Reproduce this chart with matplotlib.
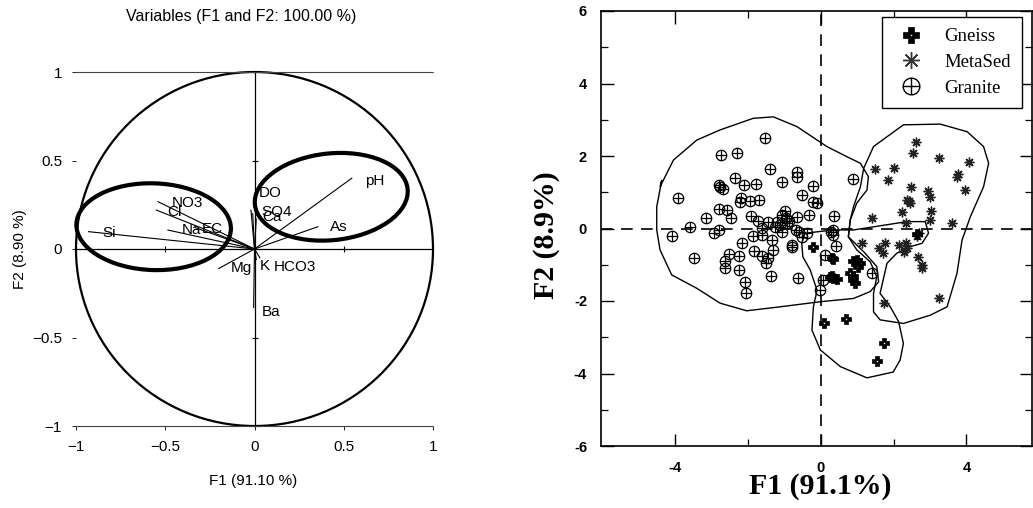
import numpy as np
import matplotlib
matplotlib.use("Agg")
import matplotlib.pyplot as plt
import matplotlib.path as mpath
from matplotlib.patches import Circle, Ellipse, Polygon
from matplotlib.lines import Line2D

# ---- left panel: correlation circle (loadings on F1/F2) ----
var_names = ["pH", "As", "Si", "NO3", "Cl", "Na", "EC", "DO", "SO4", "Ca",
             "Mg", "K", "HCO3", "Ba"]
load_f1 = [0.545, 0.355, -0.93, -0.54, -0.55, -0.485, -0.33, -0.02, -0.01, 0.01,
           -0.20, 0.01, 0.03, -0.005]
load_f2 = [0.40, 0.126, 0.098, 0.267, 0.22, 0.107, 0.12, 0.22, 0.20, 0.17,
           -0.11, -0.06, -0.05, -0.33]
label_x = [0.62, 0.424, -0.855, -0.463, -0.487, -0.407, -0.295, 0.026, 0.041, 0.045,
           -0.132, 0.028, 0.106, 0.041]
label_y = [0.386, 0.123, 0.089, 0.258, 0.211, 0.107, 0.113, 0.318, 0.211, 0.183,
           -0.109, -0.096, -0.10, -0.354]

# groups drawn by hand on the circle
group_cx = [-0.565, 0.43]
group_cy = [0.126, 0.295]
group_w = [0.866, 0.86]
group_h = [0.49, 0.49]
group_angle = [-2, 6]

circle_ticks = [-1, -0.5, 0, 0.5, 1]
circle_ticklabels = ["\u22121", "\u22120.5", "0", "0.5", "1"]

# ---- right panel: sample scores ----
granite_x = [-1.52, -2.74, -2.30, -1.39, -0.65, -0.65, -2.36, -2.10, -1.77, -1.07,
             -0.21, -2.79, -2.67, -2.76, -3.92, -0.50, -2.19, -2.21, -1.94, -1.69,
             -0.21, -0.10, -2.79, -2.58, -2.45, -3.15, -1.92, -0.99, -1.05, -0.65,
             -0.33, 0.37, -1.71, -1.45, -1.20, -1.11, -3.59, -4.08, -2.94, -2.79,
             -1.07, -0.68, -0.38, -1.85, -1.62, -1.34, -1.32, -0.52, -0.79, -0.79,
             -2.15, 0.33, 0.33, 0.42, -1.84, -1.62, -1.45, -1.51, -2.51, -2.25,
             -2.62, -2.62, -3.49, -2.23, -1.36, -0.61, -2.07, -2.05, 0.06, -0.03,
             0.12, 0.90, 1.42, 0.28, -0.95, -0.88, -1.25, -0.60, -0.92, -1.60]
granite_y = [2.49, 2.03, 2.07, 1.64, 1.55, 1.43, 1.38, 1.20, 1.23, 1.27,
             1.18, 1.20, 1.09, 1.15, 0.85, 0.92, 0.83, 0.74, 0.76, 0.80,
             0.74, 0.69, 0.54, 0.51, 0.28, 0.30, 0.35, 0.48, 0.37, 0.33,
             0.37, 0.34, 0.21, 0.19, 0.19, 0.09, 0.03, -0.20, -0.13, -0.04,
             -0.11, -0.04, -0.12, -0.20, -0.18, -0.32, -0.59, -0.24, -0.46, -0.52,
             -0.41, -0.04, -0.18, -0.47, -0.61, -0.75, -0.82, -0.96, -0.70, -0.77,
             -0.91, -1.08, -0.80, -1.14, -1.31, -1.36, -1.47, -1.79, -1.43, -1.70,
             -0.73, 1.36, -1.24, -0.09, 0.30, 0.22, 0.05, -0.10, 0.15, 0.02]

metased_x = [2.62, 2.53, 3.24, 4.06, 2.00, 1.50, 1.86, 3.77, 3.74, 3.97,
             2.49, 2.94, 3.00, 2.37, 2.46, 2.42, 2.23, 3.04, 3.01, 3.60,
             2.35, 1.41, 2.69, 2.64, 2.33, 2.38, 2.30, 1.77, 1.60, 1.72,
             1.13, 2.67, 2.78, 3.24, 1.73, 2.78, 2.15]
metased_y = [2.38, 2.07, 1.94, 1.83, 1.66, 1.64, 1.34, 1.50, 1.42, 1.06,
             1.15, 1.03, 0.88, 0.80, 0.70, 0.76, 0.46, 0.49, 0.23, 0.16,
             0.14, 0.28, -0.13, -0.20, -0.40, -0.55, -0.65, -0.41, -0.55, -0.68,
             -0.41, -0.78, -1.10, -1.91, -2.06, -1.00, -0.45]

gneiss_x = [-0.21, 0.35, 0.30, 0.30, 0.35, 0.44, 0.25, 0.81, 0.90, 0.95,
            0.88, 0.99, 1.08, 0.90, 1.02, 0.08, 0.70, 1.75, 1.54, 2.65]
gneiss_y = [-0.50, -0.84, -0.80, -1.30, -1.36, -1.38, -1.35, -1.24, -1.42, -1.51,
            -1.30, -0.87, -0.96, -0.91, -1.05, -2.62, -2.51, -3.17, -3.66, -0.15]

# group envelopes
granite_hull_x = [-4.36, -4.41, -4.04, -3.40, -2.76, -1.85, -1.30, -0.65, 0.17, 0.72,
                  1.09, 1.31, 1.27, 0.99, 0.81, 0.76, 1.18, 1.54, 1.59, 1.36,
                  0.90, -0.01, -1.11, -2.03, -2.76, -3.40, -4.09, -4.41, -4.50, -4.50]
granite_hull_y = [1.34, 1.15, 1.89, 2.44, 2.72, 3.04, 3.08, 2.81, 2.26, 1.98,
                  1.80, 1.43, 1.06, 0.70, 0.23, -0.23, -0.64, -1.05, -1.47, -1.74,
                  -1.93, -2.02, -2.16, -2.27, -2.06, -1.65, -1.28, -0.59, -0.04, 0.60]
metased_hull_x = [2.27, 3.28, 4.02, 4.47, 4.61, 4.47, 4.11, 3.88, 3.74, 3.47,
                  3.01, 2.27, 1.63, 1.45, 1.45, 1.54, 1.36, 0.99, 0.76, 0.81,
                  0.90, 1.09, 1.18, 1.45]
metased_hull_y = [2.86, 2.88, 2.67, 2.26, 1.80, 1.15, 0.33, -0.32, -1.24, -2.16,
                  -2.39, -2.62, -2.52, -2.30, -1.79, -1.33, -0.92, -0.59, -0.23, 0.23,
                  0.60, 1.15, 1.66, 2.26]
gneiss_hull_x = [-0.52, -0.43, 0.35, 0.90, 2.37, 2.87, 2.96, 2.78, 2.46, 2.09,
                 1.82, 1.63, 1.91, 2.14, 2.27, 2.18, 1.99, 1.27, 0.54, -0.01,
                 -0.24, -0.20, -0.10, -0.29, -0.49]
gneiss_hull_y = [-0.41, -0.13, -0.04, -0.04, 0.19, 0.19, -0.13, -0.41, -0.50, -0.68,
                 -0.96, -1.79, -2.16, -2.57, -3.17, -3.63, -3.96, -4.12, -3.81, -3.35,
                 -2.80, -2.16, -1.70, -1.14, -0.78]

score_xticks = [-4, 0, 4]
score_xticklabels = ["-4", "0", "4"]
score_yticks = [-6, -4, -2, 0, 2, 4, 6]
score_yticklabels = ["-6", "-4", "-2", "0", "2", "4", "6"]


def granite_marker():
    circ = mpath.Path.unit_circle()
    cross = mpath.Path([[-1, 0], [1, 0], [0, -1], [0, 1]],
                       [mpath.Path.MOVETO, mpath.Path.LINETO,
                        mpath.Path.MOVETO, mpath.Path.LINETO])
    return mpath.Path.make_compound_path(circ, cross)


def gneiss_marker():
    a, b = 0.38, 0.16
    outer = [(-a, 1), (a, 1), (a, a), (1, a), (1, -a), (a, -a), (a, -1),
             (-a, -1), (-a, -a), (-1, -a), (-1, a), (-a, a), (-a, 1)]
    inner = [(-b, -b), (b, -b), (b, b), (-b, b), (-b, -b)]
    p1 = mpath.Path(outer, closed=True)
    p2 = mpath.Path(inner, closed=True)
    return mpath.Path.make_compound_path(p1, p2)


fig = plt.figure(figsize=(10.33, 5.08), dpi=100)
W, H = 1033.0, 508.0

# ===================== left panel =====================
sans = ["Liberation Sans", "DejaVu Sans"]
ax1 = fig.add_axes([76 / W, (H - 426) / H, 357 / W, 354 / H])
ax1.set_xlim(-1, 1)
ax1.set_ylim(-1, 1)
for side in ["left", "right"]:
    ax1.spines[side].set_visible(False)
for side in ["top", "bottom"]:
    ax1.spines[side].set_linestyle((0, (1, 1)))
    ax1.spines[side].set_linewidth(0.8)
    ax1.spines[side].set_color("#444444")

ax1.add_patch(Circle((0, 0), 1, fill=False, lw=1.6, color="black", clip_on=False))
ax1.axhline(0, color="black", lw=0.9)
ax1.axvline(0, color="black", lw=0.9)
# small ticks on the centre axes
ax1.plot([-0.5, 0.5], [0, 0], ls="none", marker="|", ms=5, mew=0.8, color="black")
ax1.plot([0, 0], [-0.5, 0.5], ls="none", marker="_", ms=5, mew=0.8, color="black")

for x, y in zip(load_f1, load_f2):
    ax1.plot([0, x], [0, y], color="black", lw=0.8)
for name, tx, ty in zip(var_names, label_x, label_y):
    ax1.text(tx, ty, name, ha="left", va="center", fontsize=11, family=sans)

for cx, cy, w, h, ang in zip(group_cx, group_cy, group_w, group_h, group_angle):
    ax1.add_patch(Ellipse((cx, cy), w, h, angle=ang, fill=False, lw=3.0,
                          color="black", clip_on=False))

ax1.set_xticks(circle_ticks, circle_ticklabels)
ax1.set_yticks(circle_ticks, circle_ticklabels)
ax1.tick_params(axis="both", direction="out", length=3, width=0.6, labelsize=11,
                top=False, right=False, pad=7)
for lab in ax1.get_xticklabels() + ax1.get_yticklabels():
    lab.set_family(sans)

fig.text(241 / W, 1 - 17 / H, "Variables (F1 and F2: 100.00 %)", ha="center", va="center",
         fontsize=11.5, family=sans)
fig.text(253 / W, 1 - 481 / H, "F1 (91.10 %)", ha="center", va="center",
         fontsize=11, family=sans)
fig.text(20 / W, 1 - 249 / H, "F2 (8.90 %)", ha="center", va="center", rotation=90,
         fontsize=11, family=sans)

# ===================== right panel =====================
serif = ["Liberation Serif", "DejaVu Serif"]
ax2 = fig.add_axes([601 / W, (H - 446) / H, 431 / W, 435 / H])
ax2.set_xlim(-6.03, 5.8)
ax2.set_ylim(-6, 6)
for sp in ax2.spines.values():
    sp.set_linewidth(1.2)

ax2.axhline(0, color="black", lw=1.2, dashes=(7, 5))
ax2.axvline(0, color="black", lw=1.2, dashes=(7, 5))

for hx, hy in [(granite_hull_x, granite_hull_y), (metased_hull_x, metased_hull_y),
               (gneiss_hull_x, gneiss_hull_y)]:
    ax2.add_patch(Polygon(np.column_stack([hx, hy]), closed=True, fill=False,
                          lw=1.0, color="black"))

ax2.plot(granite_x, granite_y, ls="none", marker=granite_marker(), ms=7.5,
         mfc="none", mec="black", mew=0.9, label="Granite")
ax2.plot(metased_x, metased_y, ls="none", marker=(8, 2, 0), ms=7,
         mec="#222222", mew=1.0, label="MetaSed")
ax2.plot(gneiss_x, gneiss_y, ls="none", marker=gneiss_marker(), ms=7,
         mfc="black", mec="black", mew=0.5, label="Gneiss")

handles = [
    Line2D([], [], ls="none", marker=gneiss_marker(), ms=12, mfc="black", mec="black", mew=0.5),
    Line2D([], [], ls="none", marker=(8, 2, 0), ms=12, mec="#333333", mew=1.0),
    Line2D([], [], ls="none", marker=granite_marker(), ms=12, mfc="none", mec="black", mew=1.0),
]
leg = ax2.legend(handles, ["Gneiss", "MetaSed", "Granite"], loc="upper right",
                 bbox_to_anchor=(0.977, 0.986), borderaxespad=0, fancybox=False,
                 framealpha=1, edgecolor="black", prop={"family": serif, "size": 13.5},
                 handletextpad=0.9, labelspacing=0.45, borderpad=0.6, handlelength=1.8)
leg.get_frame().set_linewidth(1.0)

ax2.set_xticks(score_xticks, score_xticklabels)
ax2.set_yticks(score_yticks, score_yticklabels)
ax2.set_xticks([-2, 2], minor=True)
ax2.set_yticks([-5, -3, -1, 1, 3, 5], minor=True)
ax2.tick_params(axis="both", which="major", direction="in", length=9, width=1.0,
                top=True, right=True, labelsize=10.5)
ax2.tick_params(axis="both", which="minor", direction="in", length=5, width=0.9,
                top=True, right=True)
ax2.tick_params(axis="x", pad=11)
ax2.tick_params(axis="y", pad=10)
for lab in ax2.get_xticklabels() + ax2.get_yticklabels():
    lab.set_family(sans)
    lab.set_fontweight("bold")

fig.text(820 / W, 1 - 487 / H, "F1 (91.1%)", ha="center", va="center",
         fontsize=21.5, fontweight="bold", family=serif)
fig.text(546 / W, 1 - 235 / H, "F2 (8.9%)", ha="center", va="center", rotation=90,
         fontsize=21.5, fontweight="bold", family=serif)

fig.savefig("out.png", dpi=100)
